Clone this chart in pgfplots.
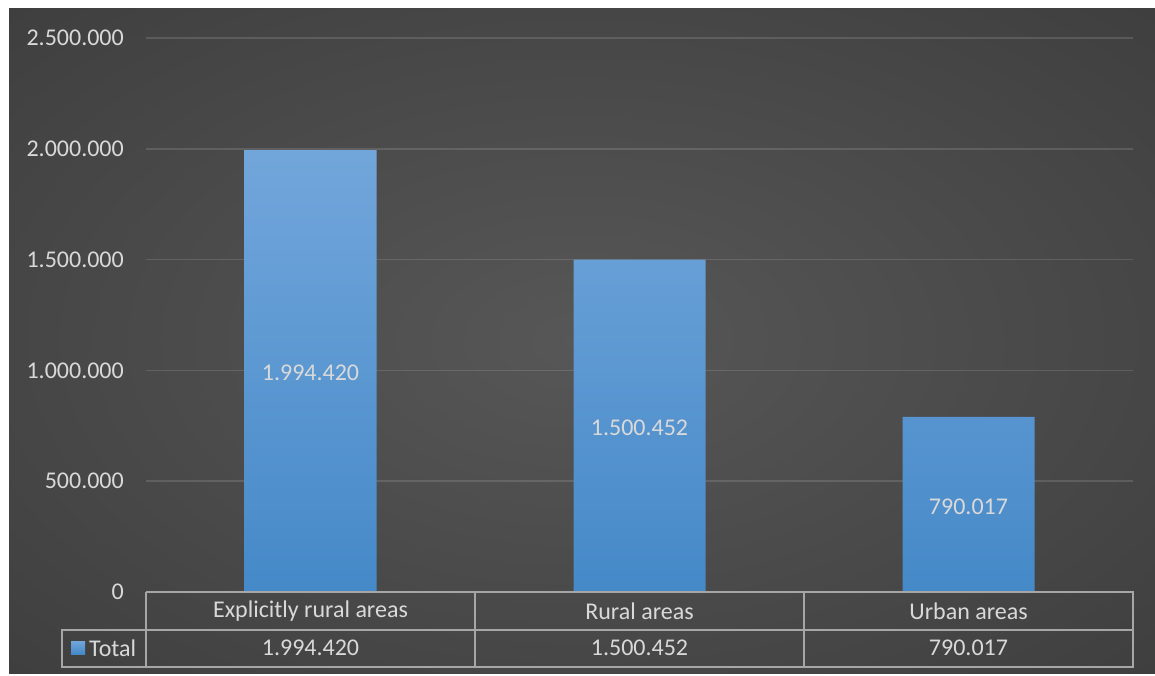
\documentclass[border=0pt]{standalone}
\usepackage{pgfplots}
\pgfplotsset{compat=1.18}
\usepackage{pgfplotstable}
\usepackage{fontspec}
\setmainfont{Carlito}
\definecolor{bgin}{HTML}{575757}
\definecolor{bgout}{HTML}{262626}
\definecolor{txt}{HTML}{D9D9D9}
\definecolor{tbl}{HTML}{A6A6A6}
\definecolor{bartop}{HTML}{72A6DB}
\definecolor{barbot}{HTML}{4589C8}
\pgfdeclareradialshading{bgshade}{\pgfpoint{0bp}{0bp}}{color(0bp)=(bgin); color(72bp)=(bgout)}
\pgfplotstableread{
x v label
0 1994420 1.994.420
1 1500452 1.500.452
2 790017 790.017
}\datatable
\begin{document}
\fontsize{24}{28}\selectfont
\begin{tikzpicture}[x=1pt,y=1pt]
\path (0,0) rectangle (1155,675);
\fill[shading=bgshade] (9,2) rectangle (1155,666);
\begin{axis}[
  at={(146pt,83pt)}, anchor=south west,
  scale only axis, width=987pt, height=554pt,
  xmin=-0.5, xmax=2.5, ymin=0, ymax=2500000,
  axis line style={draw=none},
  major tick length=0pt,
  scaled y ticks=false,
  ytick={0,500000,1000000,1500000,2000000,2500000},
  yticklabels={0,500.000,1.000.000,1.500.000,2.000.000,2.500.000},
  yticklabel style={font=\fontsize{24}{28}\selectfont, text=txt, xshift=-14pt},
  xtick={0,1,2},
  xticklabels={Explicitly rural areas,Rural areas,Urban areas},
  xticklabel style={font=\fontsize{24}{28}\selectfont, text=txt, anchor=center, yshift=-19pt},
  ymajorgrids, grid style={white, draw opacity=0.13, line width=1.5pt},
  clip=false,
]
\addplot[ybar, bar width=132pt, bar shift=0pt, draw=none, top color=bartop, bottom color=barbot]
  table[x=x, y=v] {\datatable};
\addplot[draw=none, mark=none, nodes near coords, point meta=explicit symbolic,
  nodes near coords style={anchor=center, text=txt, yshift=-2pt, font=\fontsize{24}{28}\selectfont}]
  table[x=x, y expr=\thisrow{v}/2, meta=label] {\datatable};
\addplot[draw=none, mark=none, nodes near coords, point meta=explicit symbolic,
  nodes near coords style={anchor=center, text=txt, yshift=-56pt, font=\fontsize{24}{28}\selectfont}]
  table[x=x, y expr=0, meta=label] {\datatable};
\end{axis}
\draw[tbl, line width=2pt] (146,83) -- (1133,83) -- (1133,8) -- (62,8) -- (62,45) -- (1133,45);
\foreach \xx in {146,475,804} \draw[tbl, line width=2pt] (\xx,83) -- (\xx,8);
\fill[top color=bartop, bottom color=barbot] (71,21) rectangle (85,34);
\node[text=txt, anchor=west, inner sep=0pt] at (89,27) {Total};
\end{tikzpicture}
\end{document}
